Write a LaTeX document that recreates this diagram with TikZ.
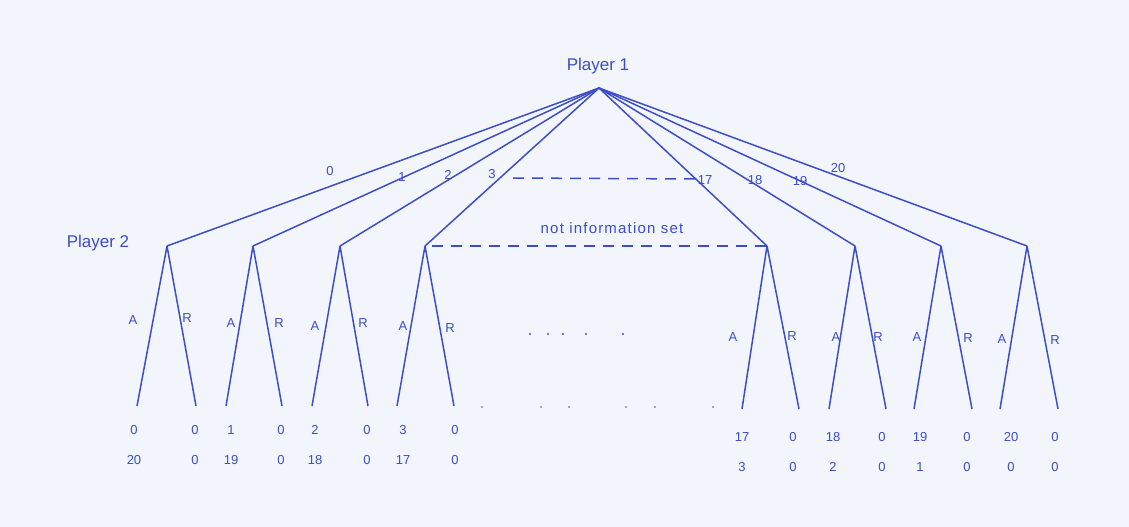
\documentclass[tikz,border=0pt]{standalone}
\usepackage{fontspec}
\setmainfont{Liberation Sans}
\definecolor{paper}{HTML}{F2F5FB}
\definecolor{ink}{HTML}{3D4EC6}
\begin{document}
\begin{tikzpicture}[x=1pt,y=-1pt,
  edge/.style={draw=ink,line width=1.5pt},
  infoline/.style={draw=ink,line width=1.5pt,dash pattern=on 11pt off 8pt},
  lbl/.style={text=ink,font=\fontsize{13}{15}\selectfont,inner sep=0pt},
  pay/.style={text=ink,font=\fontsize{13}{15}\selectfont,inner sep=0pt},
  who/.style={text=ink,font=\fontsize{17}{19}\selectfont,inner sep=0pt},
  note/.style={text=ink,font=\fontsize{15}{17}\selectfont\addfontfeature{LetterSpace=8},inner sep=0pt},
  dec/.style={inner sep=0pt,minimum size=0pt},
  speck/.style={fill=ink,circle,inner sep=0pt,minimum size=2.2pt}]
\fill[paper] (0,0) rectangle (1129,527);
\useasboundingbox (0,0) rectangle (1129,527);

% root
\node[dec] (r) at (599,88) {};
\node[who] (p1) at (598,66) {Player 1};

% player 2 decision nodes
\foreach \n/\x in {0/167,1/253,2/340,3/425,17/767,18/855,19/941,20/1027}
  \node[dec] (n\n) at (\x,246) {};
\node[who] (p2) at (98,243) {Player 2};

% first-stage edges
\foreach \n in {0,1,2,3,17,18,19,20}
  \draw[edge] (r.center) -- (n\n.center);

% offer labels
\node[lbl] (o0) at (330,171) {0};
\node[lbl] (o1) at (402,177) {1};
\node[lbl] (o2) at (448,175) {2};
\node[lbl] (o3) at (492,174) {3};
\node[lbl] (o17) at (705,180) {17};
\node[lbl] (o18) at (755,180) {18};
\node[lbl] (o19) at (800,181) {19};
\node[lbl] (o20) at (838,168) {20};

% dashed connectors
\coordinate (d1a) at (513,178);
\coordinate (d1b) at (697,179);
\draw[infoline] (d1a) -- (d1b);
\draw[infoline] (n3.center) ++(7,0) coordinate (d2a) -- (n17.center);
\node[note] (nis) at (612,228) {not information set};

% leaves and second-stage edges
\foreach \n/\a/\r/\y in {0/137/196/406,1/226/282/406,2/312/368/406,3/397/454/406,
                         17/742/799/409,18/829/886/409,19/914/972/409,20/1000/1058/409}{
  \node[dec] (a\n) at (\a,\y) {};
  \node[dec] (b\n) at (\r,\y) {};
  \draw[edge] (n\n.center) -- (a\n.center);
  \draw[edge] (n\n.center) -- (b\n.center);
}

% accept / reject labels
\foreach \n/\ax/\ay/\rx/\ry in {0/133/320/187/318,1/231/323/279/323,2/315/326/363/323,3/403/326/450/328,
                                17/733/337/792/336,18/836/337/878/337,19/917/337/968/338,20/1002/339/1055/340}{
  \node[lbl] (la\n) at (\ax,\ay) {A};
  \node[lbl] (lr\n) at (\rx,\ry) {R};
}

% payoffs
\foreach \n/\ax/\bx/\y/\ta/\tb/\tc in {0/134/195/430/0/20/0,1/231/281/430/1/19/0,2/315/367/430/2/18/0,3/403/455/430/3/17/0,
                                       17/742/793/437/17/3/0,18/833/882/437/18/2/0,19/920/967/437/19/1/0,20/1011/1055/437/20/0/0}{
  \node[pay] (pa\n) at (\ax,\y) {\ta};
  \node[pay] (pb\n) at (\bx,\y) {0};
  \node[pay] (qa\n) at (\ax,\y+30) {\tb};
  \node[pay] (qb\n) at (\bx,\y+30) {\tc};
}

% ellipsis dots
\foreach \x in {530,548,563,586,623}
  \node[speck] (m\x) at (\x,334) {};
\foreach \x in {482,541,569,626,655,713}
  \node[speck,minimum size=1.8pt] (s\x) at (\x,407) {};
\end{tikzpicture}
\end{document}
